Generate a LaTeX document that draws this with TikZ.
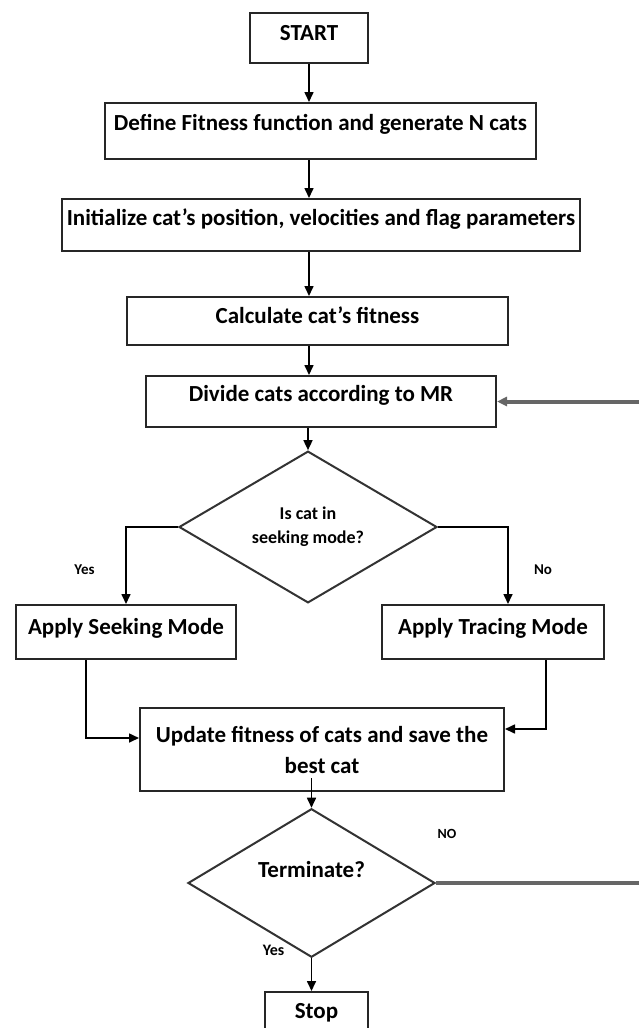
\documentclass[tikz,border=0pt]{standalone}
\usepackage{fontspec}
\setmainfont{Carlito}
\usetikzlibrary{arrows.meta,shapes.geometric}
\newcommand{\flowfont}{\fontsize{11.5}{15.5}\selectfont\bfseries}
\newcommand{\tagfont}[1]{\fontsize{#1}{#1}\selectfont\bfseries}

\begin{document}
\begin{tikzpicture}[
  x=0.5pt, y=-0.5pt,
  font=\flowfont,
  box/.style={draw=black!85, line width=1pt, inner sep=0pt, align=center},
  cond/.style={diamond, draw=black!80, line width=1pt, inner sep=0pt, align=center},
  tag/.style={inner sep=0pt, font=\tagfont{7.5}},
  ar/.style={-{Triangle[length=5pt,width=4.5pt]}, line width=0.8pt},
  back/.style={ar, line width=2pt, draw=black!60}
]
  \useasboundingbox (0,0) rectangle (638,1028);
  \node[box, minimum width=59pt, text height=13.85pt, text depth=11.15pt] (start) at (309,38) {START};
  \node[box, minimum width=215.5pt, text height=13.5pt, text depth=14.5pt] (define) at (320.5,131) {Define Fitness function and generate N cats};
  \node[box, minimum width=259pt, text height=13pt, text depth=13pt] (init) at (321,225) {Initialize cat's position, velocities and flag parameters};
  \node[box, minimum width=190.5pt, text height=13.15pt, text depth=10.85pt] (calc) at (317.5,321) {Calculate cat's fitness};
  \node[box, minimum width=175pt, text height=12.85pt, text depth=12.65pt] (divide) at (321,401.5) {Divide cats according to MR};
  \node[cond, minimum width=129pt, minimum height=60pt, font=\fontsize{9}{12}\selectfont\bfseries] (mode) at (308,527) {Is cat in\\seeking mode?};
  \node[box, minimum width=110pt, text height=14.5pt, text depth=12.5pt] (seek) at (126,632) {Apply Seeking Mode};
  \node[box, minimum width=111pt, text height=14.5pt, text depth=12.5pt] (trace) at (493,632) {Apply Tracing Mode};
  \node[box, minimum width=182pt, minimum height=41.5pt] (upd) at (322,749.5) {Update fitness of cats and save the\\best cat};
  \node[cond, minimum width=123.5pt, minimum height=60pt, text height=7.4pt, text depth=13.4pt] (term) at (311.5,883) {Terminate?};
  \node[box, minimum width=51.5pt, text height=13pt, text depth=12pt] (stop) at (316.5,1017) {Stop};
  \coordinate (loopr) at (642,883);

  \node[tag] (yesmode) at (84.5,570) {Yes};
  \node[tag] (nomode) at (543,570) {No};
  \node[tag, font=\tagfont{7}] (noterm) at (447,834) {NO};
  \node[tag, font=\tagfont{8}] (yesterm) at (273.5,950) {Yes};

  \draw[ar] (start.south) -- (start.south |- define.north);
  \draw[ar] (define.south -| start) -- (init.north -| start);
  \draw[ar] (init.south -| start) -- (calc.north -| start);
  \draw[ar] (calc.south -| start) -- (divide.north -| start);
  \draw[ar] (divide.south -| mode) -- (mode.north);
  \draw[ar] (mode.west) -| (seek.north);
  \draw[ar] (mode.east) -| ([xshift=7.5pt]trace.north);
  \draw[ar] ([xshift=-20pt]seek.south) |- ([yshift=5.75pt]upd.west);
  \draw[ar] ([xshift=26.5pt]trace.south) |- ([yshift=10.25pt]upd.east);
  \draw[ar] ([yshift=7pt]upd.south -| term) -- (term.north);
  \draw[ar] (term.south) -- (term.south |- stop.north);
  \draw[back] (term.east) -- (loopr) |- (divide.east);
\end{tikzpicture}
\end{document}
